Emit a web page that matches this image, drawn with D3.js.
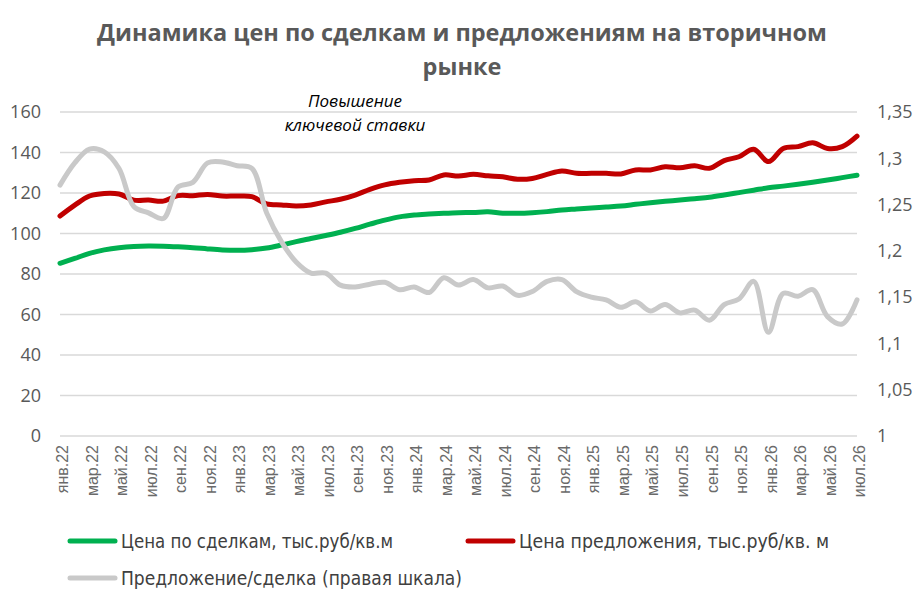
<!DOCTYPE html>
<head>
<meta charset="utf-8">
<title>Динамика цен</title>
<script src="https://cdn.jsdelivr.net/npm/d3@7"></script>
<style>
body { margin: 0; background: #fff; }
.axis text { fill: #595959; }
.axis path, .axis line { display: none; }
</style>
</head>
<body>
<script>
// months jan.22 .. jul.26
var monthNames = ["янв", "фев", "мар", "апр", "май", "июн", "июл", "авг", "сен", "окт", "ноя", "дек"];
var months = [];
for (var yr = 22; yr <= 26; yr++) {
	monthNames.forEach(function (m, k) {
		if (yr == 26 && k > 6) return;
		months.push(m + "." + yr);
	});
}

// цена по сделкам, тыс.руб/кв.м
var dealPrice = [85.3, 87.7, 90.2, 91.9, 93.0, 93.6, 93.8, 93.7, 93.4, 93.0, 92.4, 91.9,
	91.7, 92.0, 92.8, 94.3, 96.0, 97.5, 99.0, 100.6, 102.5, 104.6, 106.6, 108.2,
	109.1, 109.6, 110.0, 110.3, 110.4, 110.7, 110.0, 110.0, 110.3, 110.8, 111.6, 112.1,
	112.6, 113.1, 113.6, 114.4, 115.2, 115.9, 116.5, 117.2, 117.9, 119.0, 120.2, 121.4,
	122.6, 123.4, 124.3, 125.3, 126.4, 127.6, 128.8];

// цена предложения, тыс.руб/кв.м
var offerPrice = [108.6, 114.0, 118.5, 119.8, 119.5, 116.5, 116.5, 116.0, 118.7, 118.7, 119.3, 118.5,
	118.5, 118.2, 114.6, 114.1, 113.6, 114.1, 115.6, 116.9, 119.0, 121.8, 124.0, 125.3,
	126.1, 126.4, 128.9, 128.4, 129.2, 128.5, 128.0, 126.8, 127.2, 129.2, 130.9, 129.7,
	129.7, 129.7, 129.4, 131.4, 131.4, 133.0, 132.5, 133.5, 132.2, 136.0, 137.9, 141.6,
	135.5, 142.0, 142.9, 144.8, 142.0, 142.9, 148.1];

// предложение/сделка (правая шкала)
var ratio = [1.271, 1.295, 1.310, 1.307, 1.289, 1.248, 1.241, 1.235, 1.269, 1.274, 1.295, 1.296,
	1.292, 1.289, 1.241, 1.210, 1.188, 1.176, 1.176, 1.163, 1.161, 1.164, 1.166, 1.158,
	1.161, 1.155, 1.171, 1.163, 1.169, 1.160, 1.162, 1.152, 1.156, 1.167, 1.169, 1.156,
	1.150, 1.147, 1.139, 1.145, 1.135, 1.142, 1.133, 1.136, 1.125, 1.142, 1.148, 1.167,
	1.112, 1.154, 1.151, 1.158, 1.129, 1.121, 1.147];

var leftTicks = [0, 20, 40, 60, 80, 100, 120, 140, 160];
var rightTicks = [1, 1.05, 1.1, 1.15, 1.2, 1.25, 1.3, 1.35];

var titleLines = ["Динамика цен по сделкам и предложениям на вторичном", "рынке"];
var noteLines = ["Повышение", "ключевой ставки"];
var legendItems = [
	{ name: "Цена по сделкам, тыс.руб/кв.м", color: "#00b050" },
	{ name: "Цена предложения, тыс.руб/кв. м", color: "#c00000" },
	{ name: "Предложение/сделка (правая шкала)", color: "#c9c9c9" }
];

var W = 923, H = 603;
var plotL = 60, plotR = 857, plotT = 112, plotB = 436;

var svg = d3.select("body").append("svg")
	.attr("width", W)
	.attr("height", H);

var x = d3.scalePoint().domain(months).range([plotL, plotR]);
var y = d3.scaleLinear().domain([0, 160]).range([plotB, plotT]);
var y2 = d3.scaleLinear().domain([1, 1.35]).range([plotB, plotT]);

// title
svg.append("g").selectAll("text").data(titleLines).enter().append("text")
	.attr("x", 462)
	.attr("y", function(d, i) { return 41 + i * 34; })
	.attr("text-anchor", "middle")
	.style("font", "bold 23.5px 'Open Sans'")
	.style("fill", "#595959")
	.text(function(d) { return d; });

// grid
svg.append("g").selectAll("line").data(leftTicks).enter().append("line")
	.attr("x1", plotL).attr("x2", plotR)
	.attr("y1", function(d) { return y(d); })
	.attr("y2", function(d) { return y(d); })
	.style("stroke", "#d9d9d9")
	.style("stroke-width", 1.5);

// axes
var yAxisL = svg.append("g").attr("class", "axis")
	.attr("transform", "translate(" + (plotL - 19) + ",0)")
	.call(d3.axisLeft(y).tickValues(leftTicks).tickSize(0).tickPadding(0));
yAxisL.selectAll("text").style("font", "18px 'Open Sans'");

var fmt = function(d) { return d3.format(".2~f")(d).replace(".", ","); };
var yAxisR = svg.append("g").attr("class", "axis")
	.attr("transform", "translate(" + (plotR + 20) + ",0)")
	.call(d3.axisRight(y2).tickValues(rightTicks).tickFormat(fmt).tickSize(0).tickPadding(0));
yAxisR.selectAll("text").style("font", "18px 'Open Sans'");

var xAxis = svg.append("g").attr("class", "axis")
	.attr("transform", "translate(0," + (plotB + 9) + ")")
	.call(d3.axisBottom(x).tickValues(months.filter(function(d, i) { return i % 2 == 0; })).tickSize(0).tickPadding(0));
xAxis.selectAll("text")
	.style("font", "16px 'Liberation Sans'")
	.style("fill", "#6a6a6a")
	.attr("transform", "rotate(-90)")
	.attr("text-anchor", "end")
	.attr("dy", "0.35em")
	.attr("x", 0).attr("y", 2);

// lines
var line = d3.line()
	.x(function(d, i) { return x(months[i]); })
	.y(function(d) { return y(d); })
	.curve(d3.curveCatmullRom);
var line2 = d3.line()
	.x(function(d, i) { return x(months[i]); })
	.y(function(d) { return y2(d); })
	.curve(d3.curveCatmullRom);

[dealPrice, offerPrice].forEach(function(s, k) {
	svg.append("path").datum(s)
		.attr("d", line)
		.style("fill", "none")
		.style("stroke", legendItems[k].color)
		.style("stroke-width", 5)
		.style("stroke-linecap", "round")
		.style("stroke-linejoin", "round");
});
svg.append("path").datum(ratio)
	.attr("d", line2)
	.style("fill", "none")
	.style("stroke", legendItems[2].color)
	.style("stroke-width", 5)
	.style("stroke-linecap", "round")
	.style("stroke-linejoin", "round");

// note
svg.append("g").selectAll("text").data(noteLines).enter().append("text")
	.attr("x", 355)
	.attr("y", function(d, i) { return 107 + i * 24; })
	.attr("text-anchor", "middle")
	.style("font", "italic 17px 'Open Sans'")
	.style("fill", "#000")
	.text(function(d) { return d; });

// legend
var legPos = [[68, 541], [466, 541], [68, 578]];
var legWidth = [272, 310, 341];
var leg = svg.append("g").selectAll("g").data(legendItems).enter().append("g")
	.attr("transform", function(d, i) { return "translate(" + legPos[i][0] + "," + legPos[i][1] + ")"; });
leg.append("line")
	.attr("x1", 2).attr("x2", 47)
	.attr("y1", 0).attr("y2", 0)
	.style("stroke", function(d) { return d.color; })
	.style("stroke-width", 5)
	.style("stroke-linecap", "round");
leg.append("text")
	.attr("x", 53)
	.attr("y", 0)
	.attr("dy", "0.35em")
	.attr("textLength", function(d, i) { return legWidth[i]; })
	.attr("lengthAdjust", "spacingAndGlyphs")
	.style("font", "20px 'Liberation Sans Narrow', 'DejaVu Sans Condensed', sans-serif")
	.style("fill", "#404040")
	.text(function(d) { return d.name; });
</script>
</body>
